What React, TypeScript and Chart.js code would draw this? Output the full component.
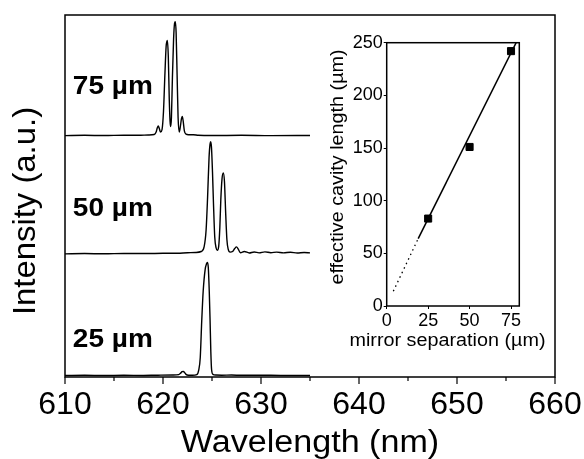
import React, { useEffect, useRef } from 'react';
import { Chart, registerables } from 'chart.js';

Chart.register(...registerables);

const FONT = '"Liberation Sans", Arial, Helvetica, sans-serif';

// ---- Main spectra (wavelength in nm, intensity relative to each baseline) ----
const wl25 = [610, 612, 614, 616, 618, 619.5, 621, 621.6, 621.8, 621.95, 622.07, 622.2, 622.35, 622.6, 623.0, 623.45, 623.65, 623.8, 623.95, 624.1, 624.3, 624.45, 624.52, 624.62, 624.72, 624.8, 624.88, 624.96, 625.1, 625.4, 626, 627, 628, 630, 632, 635];
const int25 = [0.002, 0.004, 0.002, 0.004, 0.003, 0.005, 0.006, 0.01, 0.022, 0.034, 0.036, 0.028, 0.012, 0.005, 0.004, 0.01, 0.05, 0.15, 0.45, 0.7, 0.88, 0.93, 0.94, 0.9, 0.7, 0.47, 0.2, 0.05, 0.012, 0.006, 0.005, 0.006, 0.004, 0.005, 0.003, 0.003];

const wl50 = [610, 612, 614, 616, 618, 620, 621.5, 622.5, 623.3, 623.9, 624.2, 624.4, 624.55, 624.7, 624.8, 624.87, 624.95, 625.05, 625.15, 625.28, 625.42, 625.54, 625.68, 625.8, 625.9, 626.02, 626.15, 626.27, 626.4, 626.52, 626.65, 626.85, 627.1, 627.32, 627.5, 627.68, 627.9, 628.3, 628.8, 629.3, 629.8, 630.4, 631, 631.6, 632.3, 633, 633.7, 634.4, 635];
const int50 = [0.0, 0.003, 0.001, 0.004, 0.003, 0.005, 0.006, 0.01, 0.012, 0.02, 0.06, 0.2, 0.47, 0.8, 0.91, 0.93, 0.88, 0.68, 0.42, 0.14, 0.05, 0.03, 0.06, 0.22, 0.45, 0.62, 0.67, 0.6, 0.33, 0.12, 0.04, 0.015, 0.02, 0.045, 0.058, 0.04, 0.01, 0.02, 0.008, 0.016, 0.009, 0.017, 0.01, 0.015, 0.009, 0.014, 0.008, 0.012, 0.009];

const wl75 = [610, 612, 614, 616, 617.5, 618.5, 619.1, 619.3, 619.42, 619.52, 619.62, 619.75, 619.9, 620.05, 620.2, 620.32, 620.44, 620.54, 620.64, 620.72, 620.78, 620.86, 620.96, 621.08, 621.18, 621.26, 621.34, 621.44, 621.54, 621.66, 621.78, 621.88, 621.97, 622.06, 622.18, 622.35, 622.6, 623.1, 623.6, 625, 628, 631, 635];
const int75 = [0.0, 0.003, 0.001, 0.004, 0.003, 0.006, 0.01, 0.03, 0.065, 0.08, 0.06, 0.03, 0.05, 0.2, 0.52, 0.74, 0.79, 0.66, 0.3, 0.12, 0.075, 0.15, 0.48, 0.8, 0.93, 0.945, 0.85, 0.5, 0.15, 0.03, 0.08, 0.14, 0.16, 0.12, 0.04, 0.012, 0.008, 0.008, 0.003, 0.001, 0.003, 0.0, 0.002];

const spectrumOffsets = [0.01, 1.02, 2.0];
const spectrumLabels = ['25 µm', '50 µm', '75 µm'];
const labelValueY = [0.251, 1.334, 2.345];
const labelValueX = 610.8;

// ---- Inset: effective cavity length vs mirror separation ----
const mirrorSep = [25, 50, 75];
const cavityLen = [83, 151, 242];
const fitSolidX = [19, 78.1];
const fitSolidY = [64, 250];
const fitDotX = [4, 19];
const fitDotY = [14, 64];
const insetXTicks = [0, 25, 50, 75];
const insetYTicks = [0, 50, 100, 150, 200, 250];

function drawText(
  ctx: CanvasRenderingContext2D,
  s: string,
  x: number,
  y: number,
  font: string,
  align: CanvasTextAlign,
  rot: number,
  sx: number
) {
  ctx.save();
  ctx.translate(x, y);
  ctx.rotate(rot);
  ctx.scale(sx, 1);
  ctx.font = font;
  ctx.textAlign = align;
  ctx.textBaseline = 'alphabetic';
  ctx.fillStyle = '#000';
  ctx.fillText(s, 0, 0);
  ctx.restore();
}

export default function App() {
  const mainRef = useRef<HTMLCanvasElement>(null);
  const insetRef = useRef<HTMLCanvasElement>(null);

  useEffect(() => {
    const mk = (wl: number[], it: number[], off: number) => wl.map((w, i) => ({ x: w, y: it[i] + off }));

    const mainDeco = {
      id: 'mainDeco',
      afterDraw(chart: any) {
        const { ctx, chartArea: a, scales } = chart;
        const xs = scales.x;
        const ys = scales.y;
        ctx.save();
        ctx.strokeStyle = '#000';
        ctx.lineWidth = 1.5;
        ctx.strokeRect(a.left, a.top, a.right - a.left, a.bottom - a.top);
        ctx.lineWidth = 1.2;
        xs.ticks.forEach((t: any) => {
          const px = xs.getPixelForValue(t.value);
          const len = t.value % 10 === 0 ? 7 : 4;
          ctx.beginPath();
          ctx.moveTo(px, a.bottom);
          ctx.lineTo(px, a.bottom + len);
          ctx.stroke();
        });
        ctx.restore();
        spectrumLabels.forEach((s, i) =>
          drawText(ctx, s, xs.getPixelForValue(labelValueX), ys.getPixelForValue(labelValueY[i]), `bold 25px ${FONT}`, 'left', 0, 1.12)
        );
        drawText(ctx, 'Wavelength (nm)', (a.left + a.right) / 2, 452, `31px ${FONT}`, 'center', 0, 1.1);
        drawText(ctx, 'Intensity (a.u.)', 35, 211, `31px ${FONT}`, 'center', -Math.PI / 2, 1.06);
      },
    };

    const main = new Chart(mainRef.current as HTMLCanvasElement, {
      type: 'line',
      data: {
        datasets: [
          { data: mk(wl25, int25, spectrumOffsets[0]) },
          { data: mk(wl50, int50, spectrumOffsets[1]) },
          { data: mk(wl75, int75, spectrumOffsets[2]) },
        ].map((d) => ({
          ...d,
          borderColor: '#000',
          borderWidth: 1.4,
          pointRadius: 0,
          fill: false,
          cubicInterpolationMode: 'monotone' as const,
        })),
      },
      options: {
        animation: false,
        responsive: false,
        devicePixelRatio: 1,
        layout: { padding: { left: 65, right: 29, top: 15, bottom: 0 } },
        plugins: { legend: { display: false }, tooltip: { enabled: false } },
        scales: {
          x: {
            type: 'linear',
            min: 610,
            max: 660,
            afterFit: (s: any) => {
              s.height = 82;
              s.paddingLeft = 0;
              s.paddingRight = 0;
            },
            grid: { display: false, drawTicks: false },
            border: { display: false },
            ticks: {
              stepSize: 5,
              autoSkip: false,
              maxRotation: 0,
              padding: 9,
              color: '#000',
              font: { family: FONT, size: 32 },
              callback: (v: any) => (Number(v) % 10 === 0 ? String(v) : ''),
            },
          },
          y: { type: 'linear', min: 0, max: 3, display: false },
        },
      } as any,
      plugins: [mainDeco],
    });

    const insetDeco = {
      id: 'insetDeco',
      afterDraw(chart: any) {
        const { ctx, chartArea: a } = chart;
        ctx.save();
        ctx.strokeStyle = '#000';
        ctx.lineWidth = 1.5;
        ctx.strokeRect(a.left, a.top, a.right - a.left, a.bottom - a.top);
        ctx.restore();
        drawText(ctx, 'effective cavity length (µm)', 22.7, 147, `17.5px ${FONT}`, 'center', -Math.PI / 2, 1.13);
        drawText(ctx, 'mirror separation (µm)', 127.5, 326, `17.5px ${FONT}`, 'center', 0, 1.13);
      },
    };

    const inset = new Chart(insetRef.current as HTMLCanvasElement, {
      type: 'scatter',
      data: {
        datasets: [
          {
            data: mirrorSep.map((x, i) => ({ x, y: cavityLen[i] })),
            pointStyle: 'rect',
            pointRadius: 5,
            backgroundColor: '#000',
            borderColor: '#000',
            borderWidth: 1,
            showLine: false,
          },
          {
            data: fitSolidX.map((x, i) => ({ x, y: fitSolidY[i] })),
            showLine: true,
            borderColor: '#000',
            borderWidth: 1.5,
            pointRadius: 0,
          },
          {
            data: fitDotX.map((x, i) => ({ x, y: fitDotY[i] })),
            showLine: true,
            borderColor: '#000',
            borderWidth: 1.3,
            borderDash: [1.5, 3.5],
            pointRadius: 0,
          },
        ],
      },
      options: {
        animation: false,
        responsive: false,
        devicePixelRatio: 1,
        layout: { padding: { left: 0, right: 35.7, top: 22.7, bottom: 0 } },
        plugins: { legend: { display: false }, tooltip: { enabled: false } },
        scales: {
          x: {
            type: 'linear',
            min: 0,
            max: 80,
            afterFit: (s: any) => {
              s.height = 59;
              s.paddingLeft = 0;
              s.paddingRight = 0;
            },
            afterBuildTicks: (s: any) => {
              s.ticks = insetXTicks.map((v) => ({ value: v }));
            },
            grid: { drawOnChartArea: false, tickLength: 3, color: '#000', lineWidth: 1 },
            border: { display: false },
            ticks: { padding: 1, color: '#000', autoSkip: false, maxRotation: 0, font: { family: FONT, size: 18 } },
          },
          y: {
            type: 'linear',
            min: 0,
            max: 250,
            afterFit: (s: any) => {
              s.width = 66.7;
              s.paddingTop = 0;
              s.paddingBottom = 0;
            },
            afterBuildTicks: (s: any) => {
              s.ticks = insetYTicks.map((v) => ({ value: v }));
            },
            grid: { drawOnChartArea: false, tickLength: 3, color: '#000', lineWidth: 1 },
            border: { display: false },
            ticks: { padding: 1, color: '#000', autoSkip: false, font: { family: FONT, size: 18 } },
          },
        },
      } as any,
      plugins: [insetDeco],
    });

    return () => {
      main.destroy();
      inset.destroy();
    };
  }, []);

  return (
    <div style={{ position: 'fixed', left: 0, top: 0, width: 584, height: 459, background: '#fff' }}>
      <canvas ref={mainRef} width={584} height={459} style={{ position: 'absolute', left: 0, top: 0 }} />
      <canvas ref={insetRef} width={235} height={345} style={{ position: 'absolute', left: 320, top: 20 }} />
    </div>
  );
}
